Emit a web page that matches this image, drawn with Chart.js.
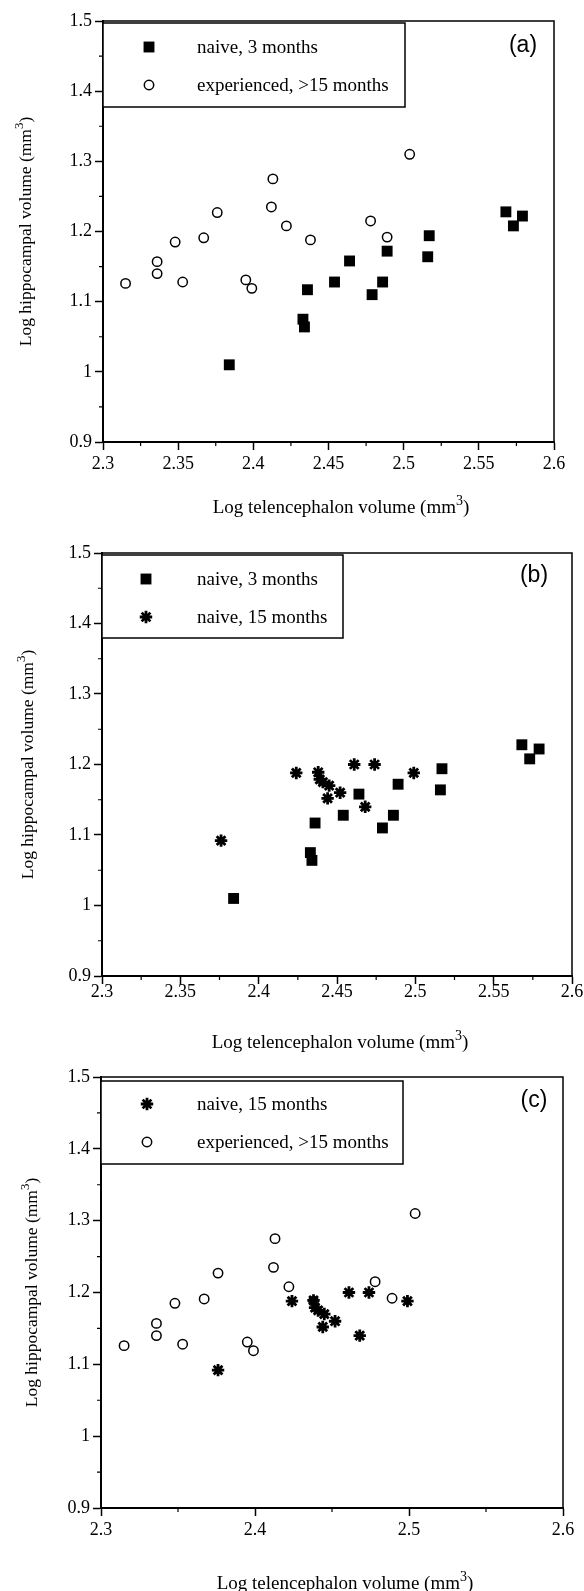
<!DOCTYPE html>
<html>
<head>
<meta charset="utf-8">
<title>Telencephalon vs hippocampal volume</title>
<script src="https://cdn.jsdelivr.net/npm/chart.js@4.4.1/dist/chart.umd.min.js"></script>
<style>
    body { margin: 0; background: #fff; width: 584px; height: 1591px; overflow: hidden; position: relative; }
    canvas { position: absolute; left: 0; }
</style>
</head>
<body>
<canvas id="chartA" width="584" height="525" style="top:0"></canvas>
<canvas id="chartB" width="584" height="535" style="top:525px"></canvas>
<canvas id="chartC" width="584" height="540" style="top:1060px"></canvas>
<script>
// data (log10 volumes, mm3)
const naive3Tel = [2.384, 2.433, 2.434, 2.436, 2.454, 2.464, 2.479, 2.486, 2.489, 2.516, 2.517, 2.568, 2.573, 2.579];
const naive3Hip = [1.010, 1.075, 1.064, 1.117, 1.128, 1.158, 1.110, 1.128, 1.172, 1.164, 1.194, 1.228, 1.208, 1.222];

const naive15Tel = [2.376, 2.424, 2.438, 2.439, 2.441, 2.445, 2.444, 2.452, 2.461, 2.474, 2.468, 2.499];
const naive15Hip = [1.092, 1.188, 1.189, 1.179, 1.175, 1.170, 1.152, 1.160, 1.200, 1.200, 1.140, 1.188];

const expTel = [2.315, 2.336, 2.336, 2.353, 2.348, 2.367, 2.376, 2.395, 2.399, 2.412, 2.413, 2.422, 2.438, 2.478, 2.489, 2.504];
const expHip = [1.126, 1.140, 1.157, 1.128, 1.185, 1.191, 1.227, 1.131, 1.119, 1.235, 1.275, 1.208, 1.188, 1.215, 1.192, 1.310];

// ticks
const xTicksFine = [2.3, 2.35, 2.4, 2.45, 2.5, 2.55, 2.6];
const xMinorFine = [2.325, 2.375, 2.425, 2.475, 2.525, 2.575];
const xTicksCoarse = [2.3, 2.4, 2.5, 2.6];
const xMinorCoarse = [2.35, 2.45, 2.55];
const yTicks = [0.9, 1, 1.1, 1.2, 1.3, 1.4, 1.5];
const yMinor = [0.95, 1.05, 1.15, 1.25, 1.35, 1.45];

// axis titles: text before the superscript, the superscript, text after
const xTitle = ['Log telencephalon volume (mm', '3', ')'];
const yTitle = ['Log hippocampal volume (mm', '3', ')'];

const SERIF = "'Liberation Serif', 'Times New Roman', serif";
Chart.defaults.font.family = SERIF;
Chart.defaults.color = '#000';

function pairs(xs, ys) {
    return xs.map((x, i) => ({ x: x, y: ys[i] }));
}

// one dataset per group, same look in every panel
const groups = {
    naive3: {
        label: 'naive, 3 months',
        data: pairs(naive3Tel, naive3Hip),
        pointStyle: 'rect', pointRadius: 7.7, pointBorderWidth: 0,
        pointBackgroundColor: '#000', pointBorderColor: '#000'
    },
    naive15: {
        label: 'naive, 15 months',
        data: pairs(naive15Tel, naive15Hip),
        pointStyle: 'star', pointRadius: 6.2, pointBorderWidth: 2.8,
        pointBackgroundColor: '#000', pointBorderColor: '#000'
    },
    exp: {
        label: 'experienced, >15 months',
        data: pairs(expTel, expHip),
        pointStyle: 'circle', pointRadius: 4.7, pointBorderWidth: 1.5,
        pointBackgroundColor: '#fff', pointBorderColor: '#000'
    }
};

const panels = [
    {
        id: 'chartA', height: 525, sets: ['naive3', 'exp'], letter: '(a)',
        area: { left: 103, right: 554, top: 21, bottom: 442 },
        xTicks: xTicksFine, xMinor: xMinorFine, xLabelPad: 3.5,
        xTitlePos: [341, 507], yTitleX: 25,
        legend: { x: 103, y: 23, w: 302, h: 84, markX: 149, textX: 197, rows: [47, 85] },
        letterPos: [523, 46]
    },
    {
        id: 'chartB', height: 535, sets: ['naive3', 'naive15'], letter: '(b)',
        area: { left: 102, right: 572, top: 28, bottom: 451 },
        xTicks: xTicksFine, xMinor: xMinorFine, xLabelPad: -3,
        xTitlePos: [340, 517], yTitleX: 27,
        legend: { x: 102, y: 30, w: 241, h: 83, markX: 146, textX: 197, rows: [54, 92] },
        letterPos: [534, 51]
    },
    {
        id: 'chartC', height: 540, sets: ['naive15', 'exp'], letter: '(c)',
        area: { left: 101, right: 563, top: 17, bottom: 448 },
        xTicks: xTicksCoarse, xMinor: xMinorCoarse, xLabelPad: 3,
        xTitlePos: [345, 523], yTitleX: 31,
        legend: { x: 101, y: 21, w: 302, h: 83, markX: 147, textX: 197, rows: [44, 82] },
        letterPos: [534, 41]
    }
];

// text with a raised "3", centred on (cx, cy)
function drawSupText(ctx, parts, cx, cy, size) {
    const main = size + 'px ' + SERIF;
    const small = Math.round(size * 0.72) + 'px ' + SERIF;
    ctx.font = main;
    const w1 = ctx.measureText(parts[0]).width;
    const w3 = ctx.measureText(parts[2]).width;
    ctx.font = small;
    const w2 = ctx.measureText(parts[1]).width;
    let x = cx - (w1 + w2 + w3) / 2;
    ctx.textAlign = 'left';
    ctx.textBaseline = 'alphabetic';
    const base = cy + size * 0.33;
    ctx.font = main;
    ctx.fillText(parts[0], x, base);
    x += w1;
    ctx.font = small;
    ctx.fillText(parts[1], x, base - size * 0.42);
    x += w2;
    ctx.font = main;
    ctx.fillText(parts[2], x, base);
}

// box, minor ticks, titles, inset legend and panel letter
const decorPlugin = {
    id: 'decor',
    beforeDatasetsDraw(chart, args, opts) {
        const { ctx, chartArea: a, scales } = chart;
        ctx.save();
        ctx.strokeStyle = '#000';
        ctx.lineWidth = 1.5;
        ctx.strokeRect(a.left, a.top, a.right - a.left, a.bottom - a.top);
        ctx.lineWidth = 1.2;
        ctx.beginPath();
        opts.xMinor.forEach(v => {
            const px = scales.x.getPixelForValue(v);
            ctx.moveTo(px, a.bottom);
            ctx.lineTo(px, a.bottom + 4);
        });
        yMinor.forEach(v => {
            const py = scales.y.getPixelForValue(v);
            ctx.moveTo(a.left, py);
            ctx.lineTo(a.left - 4, py);
        });
        ctx.stroke();

        ctx.fillStyle = '#000';
        drawSupText(ctx, xTitle, opts.xTitlePos[0], opts.xTitlePos[1], 19);
        ctx.translate(opts.yTitleX, (a.top + a.bottom) / 2);
        ctx.rotate(-Math.PI / 2);
        drawSupText(ctx, yTitle, 0, 0, 17.5);
        ctx.restore();
    },
    afterDatasetsDraw(chart, args, opts) {
        const { ctx } = chart;
        const lg = opts.legend;
        ctx.save();
        ctx.fillStyle = '#fff';
        ctx.fillRect(lg.x, lg.y, lg.w, lg.h);
        ctx.strokeStyle = '#000';
        ctx.lineWidth = 1.5;
        ctx.strokeRect(lg.x, lg.y, lg.w, lg.h);

        chart.data.datasets.forEach((ds, i) => {
            const y = lg.rows[i];
            ctx.fillStyle = ds.pointBackgroundColor;
            ctx.strokeStyle = ds.pointBorderColor;
            ctx.lineWidth = ds.pointBorderWidth;
            Chart.helpers.drawPoint(ctx, {
                pointStyle: ds.pointStyle,
                radius: ds.pointRadius,
                borderWidth: ds.pointBorderWidth,
                rotation: 0
            }, lg.markX, y);
            ctx.fillStyle = '#000';
            ctx.font = '19px ' + SERIF;
            ctx.textAlign = 'left';
            ctx.textBaseline = 'middle';
            ctx.fillText(ds.label, lg.textX, y + 1);
        });

        ctx.font = '23px "Liberation Sans", Arial, sans-serif';
        ctx.textAlign = 'center';
        ctx.textBaseline = 'middle';
        ctx.fillText(opts.letter, opts.letterPos[0], opts.letterPos[1]);
        ctx.restore();
    }
};

function buildChart(p) {
    const canvas = document.getElementById(p.id);
    const area = p.area;
    return new Chart(canvas, {
        type: 'scatter',
        data: { datasets: p.sets.map(k => Object.assign({}, groups[k])) },
        options: {
            responsive: false,
            animation: false,
            devicePixelRatio: 1,
            layout: { padding: { left: 0, top: area.top, right: 584 - area.right, bottom: 0 } },
            plugins: {
                legend: { display: false },
                tooltip: { enabled: false },
                decor: {
                    legend: p.legend, letter: p.letter, letterPos: p.letterPos,
                    xMinor: p.xMinor, xTitlePos: p.xTitlePos, yTitleX: p.yTitleX
                }
            },
            scales: {
                x: {
                    type: 'linear',
                    min: 2.3, max: 2.6,
                    afterBuildTicks: s => { s.ticks = p.xTicks.map(v => ({ value: v })); },
                    afterFit: s => { s.height = p.height - area.bottom; },
                    ticks: {
                        autoSkip: false, maxRotation: 0,
                        padding: p.xLabelPad,
                        font: { size: 18, lineHeight: 1.2 },
                        callback: v => String(v)
                    },
                    grid: { drawOnChartArea: false, drawTicks: true, tickLength: 8, tickWidth: 1.5, tickColor: '#000' },
                    border: { display: true, color: '#000', width: 2 }
                },
                y: {
                    type: 'linear',
                    min: 0.9, max: 1.5,
                    afterBuildTicks: s => { s.ticks = yTicks.map(v => ({ value: v })); },
                    afterFit: s => { s.width = area.left; },
                    ticks: {
                        autoSkip: false,
                        padding: 3,
                        font: { size: 18, lineHeight: 1.2 },
                        callback: v => String(v)
                    },
                    grid: { drawOnChartArea: false, drawTicks: true, tickLength: 8, tickWidth: 1.5, tickColor: '#000' },
                    border: { display: true, color: '#000', width: 2 }
                }
            }
        },
        plugins: [decorPlugin]
    });
}

panels.forEach(buildChart);
</script>
</body>
</html>
